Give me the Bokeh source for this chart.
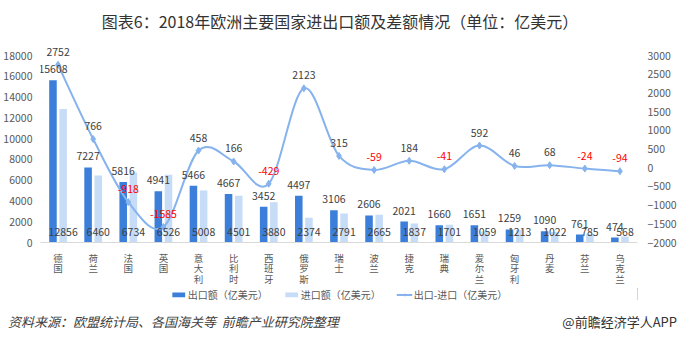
import numpy as np
from bokeh.plotting import figure
from bokeh.layouts import column
from bokeh.models import (ColumnDataSource, Range1d, LinearAxis, FixedTicker, Div,
                          Legend, LegendItem)
from bokeh.core.properties import value
from bokeh.embed import file_html
from bokeh.resources import INLINE

countries = ["德国", "荷兰", "法国", "英国", "意大利", "比利时", "西班牙", "俄罗斯", "瑞士",
             "波兰", "捷克", "瑞典", "爱尔兰", "匈牙利", "丹麦", "芬兰", "乌克兰"]
exports = [15608, 7227, 5816, 4941, 5466, 4667, 3452, 4497, 3106, 2606, 2021, 1660, 1651,
           1259, 1090, 761, 474]
imports = [12856, 6460, 6734, 6526, 5008, 4501, 3880, 2374, 2791, 2665, 1837, 1701, 1059,
           1213, 1022, 785, 568]
balance = [2752, 766, -918, -1585, 458, 166, -429, 2123, 315, -59, 184, -41, 592, 46, 68,
           -24, -94]
left_ticks = list(range(0, 18001, 2000))
right_ticks = list(range(-2000, 3001, 500))
legend_labels = ["出口额（亿美元）", "进口额（亿美元）", "出口-进口（亿美元）"]

FONT = "Noto Sans CJK SC"
DARK = "#3b7fdb"
LIGHT = "#c6dcf7"
LINE = "#86b3ee"
GREY = "#595959"

W_PX = 680
HEAD_H = 35
BORDER_TOP = 10
TOP_PAD = 10          # frame starts 10px above the 18000 / 3000 tick
AX_PX = 187           # pixel height between 0 and 18000 (and -2000 and 3000)
BORDER_BOT = 43
LEG_H = 12
FOOT_H = 343 - HEAD_H - BORDER_TOP - TOP_PAD - AX_PX - BORDER_BOT - LEG_H
B_LEFT, B_RIGHT = 40, 43
FRAME_W = W_PX - B_LEFT - B_RIGHT

n = len(countries)
idx = np.arange(n, dtype=float)
OFF = 0.145
W = 0.215

left_top = 18000 + TOP_PAD / AX_PX * 18000
right_top = 3000 + TOP_PAD / AX_PX * 5000

# ---------- header ----------
head = Div(width=W_PX, height=HEAD_H, margin=(0, 0, 0, 0), text=(
    f'<div style="position:relative;width:{W_PX}px;height:{HEAD_H}px;'
    f"font-family:'{FONT}';\">"
    '<span style="position:absolute;left:0;top:11px;width:680px;text-align:center;'
    'font-size:16px;line-height:20px;color:#333333;white-space:nowrap;">'
    '图表6：2018年欧洲主要国家进出口额及差额情况（单位：亿美元）</span></div>'))

# ---------- main chart ----------
p = figure(frame_width=FRAME_W, frame_height=AX_PX + TOP_PAD, output_backend="svg",
           toolbar_location=None,
           x_range=Range1d(-0.5, n - 0.5), y_range=Range1d(0, left_top),
           min_border_left=B_LEFT, min_border_right=B_RIGHT, min_border_top=BORDER_TOP,
           min_border_bottom=BORDER_BOT, margin=(0, 0, 0, 0))
p.extra_y_ranges = {"bal": Range1d(-2000, right_top)}
p.outline_line_color = None
p.xgrid.visible = False
p.ygrid.visible = False

src = ColumnDataSource(dict(
    xe=idx - OFF, xi=idx + OFF, x=idx, exp=exports, imp=imports, bal=balance,
    zero=[0] * n,
    exp_t=[str(v) for v in exports], imp_t=[str(v) for v in imports],
    bal_t=[str(v) for v in balance],
    bal_c=["#ff0000" if v < 0 else "#404040" for v in balance],
))

p.vbar(x="xe", top="exp", width=W, source=src, fill_color=DARK, line_color=None)
p.vbar(x="xi", top="imp", width=W, source=src, fill_color=LIGHT, line_color=None)

# smoothed line (Catmull-Rom style Bezier through the data points)
xs = idx
ys = np.array(balance, dtype=float)
xp = np.concatenate([[xs[0]], xs, [xs[-1]]])
yp = np.concatenate([[ys[0]], ys, [ys[-1]]])
prev_x, cur_x, nxt_x, nn_x = xp[0:n - 1], xp[1:n], xp[2:n + 1], xp[3:n + 2]
prev_y, cur_y, nxt_y, nn_y = yp[0:n - 1], yp[1:n], yp[2:n + 1], yp[3:n + 2]
bz = ColumnDataSource(dict(
    x0=cur_x, y0=cur_y, x1=nxt_x, y1=nxt_y,
    cx0=cur_x + (nxt_x - prev_x) / 6, cy0=cur_y + (nxt_y - prev_y) / 6,
    cx1=nxt_x - (nn_x - cur_x) / 6, cy1=nxt_y - (nn_y - cur_y) / 6,
))
p.bezier(x0="x0", y0="y0", x1="x1", y1="y1", cx0="cx0", cy0="cy0",
         cx1="cx1", cy1="cy1", source=bz, line_color=LINE, line_width=2,
         y_range_name="bal")
p.scatter(x="x", y="bal", source=src, marker="diamond", size=7,
          fill_color=LINE, line_color=LINE, y_range_name="bal")

# data labels
p.text(x="xe", y="exp", text="exp_t", source=src, text_align="center",
       text_baseline="middle", y_offset=-11, text_font=value(FONT),
       text_font_size="10.5px", text_color="#404040")
p.text(x="xi", y="zero", text="imp_t", source=src, text_align="center",
       text_baseline="middle", y_offset=-11, text_font=value(FONT),
       text_font_size="10.5px", text_color="#404040")
p.text(x="x", y="bal", text="bal_t", source=src, text_align="center",
       text_baseline="middle", y_offset=-13, text_font=value(FONT),
       text_font_size="10.5px", text_color="bal_c", y_range_name="bal")

# axes
p.yaxis.ticker = FixedTicker(ticks=left_ticks)
ax_r = LinearAxis(y_range_name="bal", ticker=FixedTicker(ticks=right_ticks))
p.add_layout(ax_r, "right")
xa = p.xaxis[0]
for ax in (p.yaxis[0], ax_r, xa):
    ax.major_tick_line_color = None
    ax.minor_tick_line_color = None
    ax.major_tick_out = 0
    ax.major_tick_in = 0
    ax.minor_tick_out = 0
    ax.minor_tick_in = 0
    ax.major_label_text_font = FONT
    ax.major_label_text_color = GREY
for ax in (p.yaxis[0], ax_r):
    ax.axis_line_color = None
    ax.major_label_text_font_size = "10.5px"
p.yaxis[0].major_label_standoff = 8
ax_r.major_label_standoff = 10

xa.ticker = FixedTicker(ticks=list(range(n)))
xa.major_label_overrides = {i: "\n".join(c) for i, c in enumerate(countries)}
xa.axis_line_color = "#d9d9d9"
xa.major_label_text_font_size = "9.5px"
xa.major_label_text_line_height = 0.76
xa.major_label_standoff = 8

# ---------- legend strip (same series, drawn outside the strip's visible x range) ----------
leg = figure(frame_width=FRAME_W, height=LEG_H, output_backend="svg",
             toolbar_location=None, x_range=Range1d(-3, -2), y_range=Range1d(0, 1),
             x_axis_type=None, y_axis_type=None, min_border_left=B_LEFT,
             min_border_right=B_RIGHT, min_border_top=0, min_border_bottom=0,
             margin=(0, 0, 0, 0))
leg.outline_line_color = None
leg.xgrid.visible = False
leg.ygrid.visible = False
k_exp = leg.vbar(x="xe", top="exp", width=W, source=src, fill_color=DARK, line_color=None)
k_imp = leg.vbar(x="xi", top="imp", width=W, source=src, fill_color=LIGHT, line_color=None)
k_line = leg.line(x="x", y="bal", source=src, line_color=LINE, line_width=2)
k_pts = leg.scatter(x="x", y="bal", source=src, marker="diamond", size=7,
                    fill_color=LINE, line_color=LINE)
legend = Legend(items=[
    LegendItem(label=legend_labels[0], renderers=[k_exp]),
    LegendItem(label=legend_labels[1], renderers=[k_imp]),
    LegendItem(label=legend_labels[2], renderers=[k_line, k_pts]),
], orientation="horizontal", location="center", glyph_width=16, glyph_height=6,
    label_standoff=2, spacing=15, padding=0, margin=0, border_line_alpha=0,
    background_fill_alpha=0, label_text_font=FONT, label_text_font_size="10px",
    label_text_color=GREY, label_height=12)
leg.add_layout(legend, "center")

# ---------- footer ----------
foot = Div(width=W_PX, height=FOOT_H, margin=(0, 0, 0, 0), text=(
    f'<div style="position:relative;width:{W_PX}px;height:{FOOT_H}px;'
    f"font-family:'{FONT}';font-size:13px;line-height:18px;\">"
    '<span style="position:absolute;left:8px;top:13px;font-style:italic;'
    'color:#404040;white-space:nowrap;">资料来源：欧盟统计局、各国海关等&nbsp;&nbsp;'
    '前瞻产业研究院整理</span>'
    '<span style="position:absolute;right:3px;top:13px;color:#333333;'
    'white-space:nowrap;">@前瞻经济学人APP</span></div>'))

layout = column(head, p, leg, foot, spacing=0)
open("out.html", "w").write(file_html(layout, INLINE))
